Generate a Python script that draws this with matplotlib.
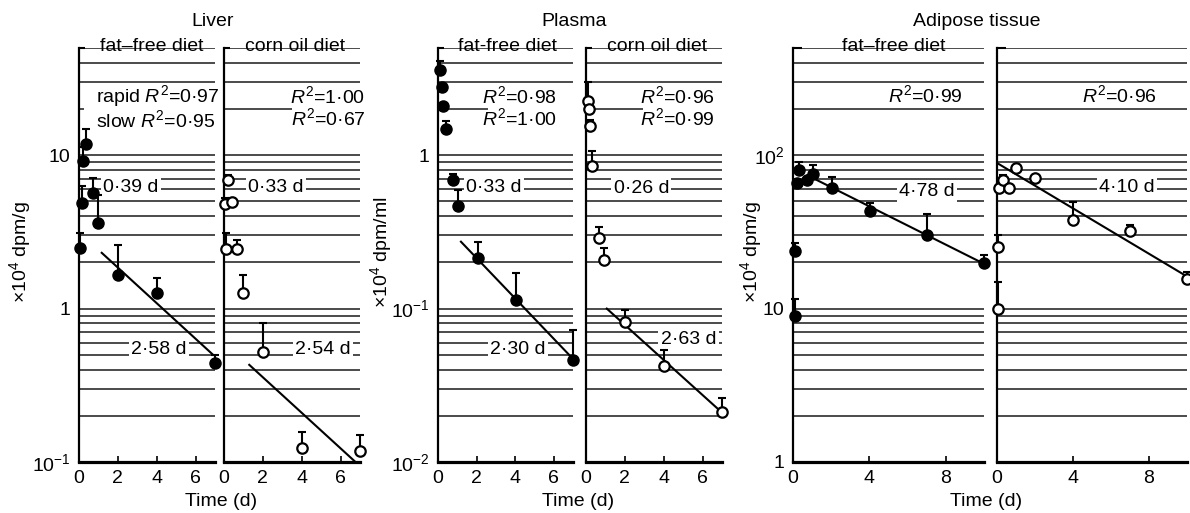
import numpy as np
import matplotlib
matplotlib.use('Agg')
import matplotlib.pyplot as plt
import matplotlib.transforms as mtransforms
from matplotlib.ticker import LogLocator, NullFormatter, FixedLocator, FixedFormatter
from matplotlib.patches import Rectangle

plt.rcParams['font.family'] = ['Liberation Sans', 'DejaVu Sans']
plt.rcParams['mathtext.fontset'] = 'custom'
plt.rcParams['mathtext.rm'] = 'Liberation Sans'
plt.rcParams['mathtext.it'] = 'Liberation Sans:italic'
plt.rcParams['mathtext.bf'] = 'Liberation Sans:bold'
plt.rcParams['font.size'] = 14

# ---- data (time in days, x10^4 dpm) ----
# Liver, fat-free diet
liver_ff_t = [0.04, 0.17, 0.2, 0.36, 0.7, 1.0, 2.0, 4.0, 7.0]
liver_ff_v = [2.5, 4.9, 9.2, 11.9, 5.65, 3.6, 1.65, 1.27, 0.44]
liver_ff_top = [3.1, 6.3, 11.3, 14.8, 7.1, 5.5, 2.6, 1.58, 0.5]
liver_ff_fit_t = [1.17, 6.9]
liver_ff_fit_v = [2.31, 0.50]

# Liver, corn oil diet
liver_co_t = [0.05, 0.09, 0.19, 0.4, 0.69, 1.0, 2.0, 4.0, 7.0]
liver_co_v = [4.8, 2.45, 6.9, 4.97, 2.45, 1.26, 0.52, 0.123, 0.118]
liver_co_top = [5.3, 3.1, 7.4, 5.3, 2.8, 1.65, 0.81, 0.158, 0.15]
liver_co_fit_t = [1.3, 7.0]
liver_co_fit_v = [0.43, 0.094]

# Plasma, fat-free diet
plasma_ff_t = [0.1, 0.22, 0.28, 0.41, 0.76, 1.05, 2.09, 4.03, 7.0]
plasma_ff_v = [3.6, 2.8, 2.1, 1.48, 0.69, 0.47, 0.215, 0.114, 0.046]
plasma_ff_top = [4.1, 2.8, 2.1, 1.67, 0.75, 0.59, 0.27, 0.17, 0.073]
plasma_ff_fit_t = [1.19, 7.0]
plasma_ff_fit_v = [0.273, 0.047]

# Plasma, corn oil diet
plasma_co_t = [0.12, 0.16, 0.21, 0.33, 0.67, 0.95, 2.0, 4.0, 7.0]
plasma_co_v = [2.26, 1.99, 1.55, 0.85, 0.29, 0.207, 0.082, 0.042, 0.0213]
plasma_co_top = [3.0, 1.99, 1.69, 1.07, 0.34, 0.25, 0.098, 0.054, 0.026]
plasma_co_fit_t = [1.07, 7.0]
plasma_co_fit_v = [0.1, 0.021]

# Adipose tissue, fat-free diet
adipose_ff_t = [0.1, 0.1, 0.19, 0.31, 0.72, 1.03, 2.03, 4.03, 7.0, 10.0]
adipose_ff_v = [8.95, 23.8, 65.6, 80, 68.9, 75, 60.9, 43.5, 30.2, 19.9]
adipose_ff_top = [11.5, 26.7, 69, 90.7, 68.9, 86, 72.4, 49, 41.2, 22.4]
adipose_ff_fit_t = [0.75, 10.0]
adipose_ff_fit_v = [74, 19.6]

# Adipose tissue, corn oil diet
adipose_co_t = [0.04, 0.07, 0.12, 0.33, 0.63, 1.0, 2.0, 4.0, 7.0, 10.0]
adipose_co_v = [9.9, 25.3, 61, 69, 61, 82, 71, 37.8, 32.2, 15.5]
adipose_co_top = [15, 30, 61, 74, 61, 86, 74, 49.7, 34.9, 17.4]
adipose_co_fit_t = [0.0, 10.0]
adipose_co_fit_v = [89, 16.2]

W, H = 1190, 513
fig = plt.figure(figsize=(W / 100, H / 100), dpi=100)


def add_px_axes(x0, x1, y0=48, y1=462):
    return fig.add_axes([x0 / W, 1 - y1 / H, (x1 - x0) / W, (y1 - y0) / H])


liver_yt = {0.1: r'$10^{-1}$', 1: '1', 10: '10'}
plasma_yt = {0.01: r'$10^{-2}$', 0.1: r'$10^{-1}$', 1: '1'}
adipose_yt = {1: '1', 10: '10', 100: r'$10^{2}$'}

panels = [
    dict(px=(79, 215), t=liver_ff_t, v=liver_ff_v, top=liver_ff_top,
         fit_t=liver_ff_fit_t, fit_v=liver_ff_fit_v, filled=True,
         ylim=(0.1, 50), xlim=(0, 7), xticks=[0, 2, 4, 6], yt=liver_yt,
         sub='fat–free diet', sub_x=152,
         halves=[('0·39 d', 2.68, 6.2), ('2·58 d', 4.12, 0.54)],
         r2='rapid $R^2$=0·97\nslow $R^2$=0·95', r2_x=0.125, r2_y=20.6,
         r2_ha='left', box_x=0.04, box_y=(15.2, 27.7)),
    dict(px=(224, 360), t=liver_co_t, v=liver_co_v, top=liver_co_top,
         fit_t=liver_co_fit_t, fit_v=liver_co_fit_v, filled=False,
         ylim=(0.1, 50), xlim=(0, 7), xticks=[0, 2, 4, 6], yt=None,
         sub='corn oil diet', sub_x=295,
         halves=[('0·33 d', 2.68, 6.2), ('2·54 d', 5.1, 0.54)],
         r2='$R^2$=1·00\n$R^2$=0·67', r2_x=1.04, r2_y=20.6,
         r2_ha='right', box_x=0.5, box_y=(15.2, 27.7)),
    dict(px=(438, 573), t=plasma_ff_t, v=plasma_ff_v, top=plasma_ff_top,
         fit_t=plasma_ff_fit_t, fit_v=plasma_ff_fit_v, filled=True,
         ylim=(0.01, 5), xlim=(0, 7), xticks=[0, 2, 4, 6], yt=plasma_yt,
         sub='fat-free diet', sub_x=507,
         halves=[('0·33 d', 2.9, 0.62), ('2·30 d', 4.15, 0.054)],
         r2='$R^2$=0·98\n$R^2$=1·00', r2_x=0.88, r2_y=2.06,
         r2_ha='right', box_x=0.37, box_y=(1.53, 2.76)),
    dict(px=(586, 722), t=plasma_co_t, v=plasma_co_v, top=plasma_co_top,
         fit_t=plasma_co_fit_t, fit_v=plasma_co_fit_v, filled=False,
         ylim=(0.01, 5), xlim=(0, 7), xticks=[0, 2, 4, 6], yt=None,
         sub='corn oil diet', sub_x=657,
         halves=[('0·26 d', 2.85, 0.61), ('2·63 d', 5.28, 0.063)],
         r2='$R^2$=0·96\n$R^2$=0·99', r2_x=0.95, r2_y=2.06,
         r2_ha='right', box_x=0.42, box_y=(1.53, 2.76)),
    dict(px=(793, 984), t=adipose_ff_t, v=adipose_ff_v, top=adipose_ff_top,
         fit_t=adipose_ff_fit_t, fit_v=adipose_ff_fit_v, filled=True,
         ylim=(1, 500), xlim=(0, 10), xticks=[0, 4, 8], yt=adipose_yt,
         sub='fat–free diet', sub_x=894,
         halves=[('4·78 d', 7.0, 57.8)],
         r2='$R^2$=0·99', r2_x=0.89, r2_y=247,
         r2_ha='right', box_x=None, box_y=None),
    dict(px=(997, 1187), t=adipose_co_t, v=adipose_co_v, top=adipose_co_top,
         fit_t=adipose_co_fit_t, fit_v=adipose_co_fit_v, filled=False,
         ylim=(1, 500), xlim=(0, 10), xticks=[0, 4, 8], yt=None,
         sub=None, sub_x=None,
         halves=[('4·10 d', 6.85, 62)],
         r2='$R^2$=0·96', r2_x=0.84, r2_y=247,
         r2_ha='right', box_x=None, box_y=None),
]

for p in panels:
    ax = add_px_axes(*p['px'])
    ax.set_yscale('log')
    ax.set_xlim(*p['xlim'])
    ax.set_ylim(*p['ylim'])
    ax.set_axisbelow(True)

    for s in ['top', 'right']:
        ax.spines[s].set_visible(False)
    ax.spines['left'].set_linewidth(1.6)
    ax.spines['bottom'].set_linewidth(2.3)

    # horizontal rules at every log tick
    ax.yaxis.set_minor_locator(LogLocator(base=10, subs=range(1, 10)))
    ax.yaxis.set_minor_formatter(NullFormatter())
    ax.grid(True, which='both', axis='y', color='#1a1a1a', lw=1.1)
    ax.tick_params(axis='y', which='both', length=0, pad=6, labelsize=14)
    if p['yt']:
        ax.yaxis.set_major_locator(FixedLocator(list(p['yt'].keys())))
        ax.yaxis.set_major_formatter(FixedFormatter(list(p['yt'].values())))
    else:
        ax.yaxis.set_major_formatter(NullFormatter())

    ax.set_xticks(p['xticks'])
    ax.tick_params(axis='x', direction='in', length=4, width=1.2, pad=6, labelsize=14)

    # small hook at top of left spine
    ax.plot([0, 0.045], [1, 1], transform=ax.transAxes, color='k', lw=1.5,
            clip_on=False, solid_capstyle='butt')

    t = np.array(p['t'])
    v = np.array(p['v'])
    top = np.array(p['top'])
    ax.errorbar(t, v, yerr=[np.zeros_like(v), top - v], fmt='none', ecolor='k',
                elinewidth=1.5, capsize=3, capthick=1.5, zorder=4, clip_on=False)
    if p['filled']:
        ax.plot(t, v, 'o', ms=8, mfc='k', mec='k', zorder=5, clip_on=False)
    else:
        ax.plot(t, v, 'o', ms=7.5, mfc='white', mec='k', mew=1.6, zorder=5, clip_on=False)

    ax.plot(p['fit_t'], p['fit_v'], color='k', lw=1.5, zorder=3)

    for lab, lx, ly in p['halves']:
        ax.text(lx, ly, lab, ha='center', va='center', fontsize=14, zorder=3.5,
                bbox=dict(boxstyle='square,pad=0.12', fc='white', ec='none'))

    trans = mtransforms.blended_transform_factory(ax.transAxes, ax.transData)
    if p['box_x'] is not None:
        y0, y1 = p['box_y']
        ax.add_patch(Rectangle((p['box_x'], y0), 1.0 - p['box_x'], y1 - y0,
                               transform=trans, fc='white', ec='none', zorder=1))
    ax.text(p['r2_x'], p['r2_y'], p['r2'], transform=trans, ha=p['r2_ha'],
            va='center', fontsize=14, linespacing=1.05, zorder=3.5)

    if p['sub']:
        fig.text(p['sub_x'] / W, 1 - 47 / H, p['sub'], ha='center', va='center', fontsize=14)

# group titles, axis labels
for name, cx in [('Liver', 213), ('Plasma', 574), ('Adipose tissue', 977)]:
    fig.text(cx / W, 1 - 22 / H, name, ha='center', va='center', fontsize=14)
for cx in [221, 578, 986]:
    fig.text(cx / W, 1 - 502 / H, 'Time (d)', ha='center', va='center', fontsize=14)
for cx, lab in [(20, '×10$^4$ dpm/g'), (381, '×10$^4$ dpm/ml'), (751, '×10$^4$ dpm/g')]:
    fig.text(cx / W, 1 - 252 / H, lab, ha='center', va='center', rotation=90, fontsize=14)

fig.savefig('out.png', dpi=100)
